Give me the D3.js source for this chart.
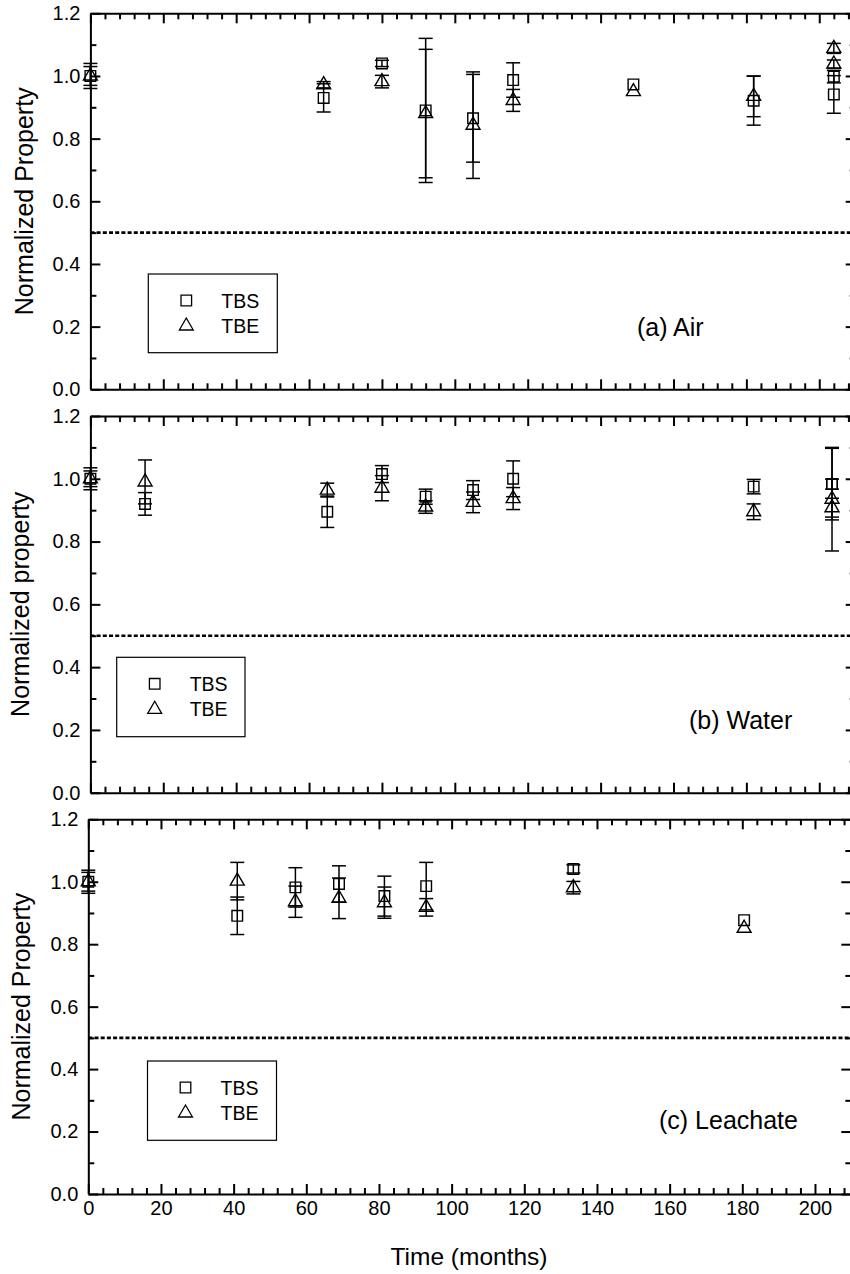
<!DOCTYPE html>
<html>
<head>
<meta charset="utf-8">
<script src="https://cdn.jsdelivr.net/npm/d3@7"></script>
<style>
  body { margin: 0; background: #fff; }
  svg text { font-family: "Liberation Sans", Arial, Helvetica, sans-serif; fill: #000; }
</style>
</head>
<body>
<svg id="chart" width="850" height="1274"></svg>
<script>
// ---- Data: normalized property vs. exposure time (months) ----
// (a) Air
const airTbsMonths = [0, 64, 80, 92, 105, 116, 149, 182, 204, 204];
const airTbsValues = [1.00, 0.93, 1.04, 0.89, 0.865, 0.987, 0.973, 0.921, 0.998, 0.941];
const airTbsErrors = [0.03, 0.045, 0.01, 0.23, 0.14, 0.055, 0, 0.078, 0.02, 0.06];
const airTbeMonths = [0, 64, 80, 92, 105, 116, 149, 182, 204, 204];
const airTbeValues = [1.00, 0.972, 0.982, 0.88, 0.843, 0.922, 0.95, 0.935, 1.088, 1.038];
const airTbeErrors = [0.04, 0.01, 0.02, 0.205, 0.17, 0.035, 0, 0.065, 0.016, 0.013];

// (b) Water
const waterTbsMonths = [0, 15, 65, 80, 92, 105, 116, 182, 203.5, 203.5];
const waterTbsValues = [1.00, 0.92, 0.895, 1.015, 0.943, 0.964, 1.00, 0.975, 0.983, 0.983];
const waterTbsErrors = [0.025, 0.036, 0.05, 0.027, 0.024, 0.03, 0.057, 0.023, 0.016, 0.114];
const waterTbeMonths = [0, 15, 65, 80, 92, 105, 116, 182, 203.5, 203.5];
const waterTbeValues = [1.00, 0.99, 0.964, 0.97, 0.91, 0.925, 0.937, 0.895, 0.935, 0.908];
const waterTbeErrors = [0.035, 0.07, 0.022, 0.04, 0.02, 0.033, 0.035, 0.025, 0.165, 0.03];

// (c) Leachate
const leachTbsMonths = [0, 41, 57, 69, 81.5, 93, 133.5, 180.5];
const leachTbsValues = [1.00, 0.891, 0.982, 0.993, 0.954, 0.986, 1.041, 0.877];
const leachTbsErrors = [0.03, 0.06, 0.063, 0.058, 0.064, 0.076, 0.013, 0];
const leachTbeMonths = [0, 41, 57, 69, 81.5, 93, 133.5, 180.5];
const leachTbeValues = [1.00, 1.002, 0.936, 0.947, 0.933, 0.918, 0.981, 0.851];
const leachTbeErrors = [0.037, 0.06, 0.05, 0.065, 0.05, 0.028, 0.02, 0];

// Axis ticks and labels
const xMajorTicks = [0, 20, 40, 60, 80, 100, 120, 140, 160, 180, 200];
const yMajorTicks = [0.0, 0.2, 0.4, 0.6, 0.8, 1.0, 1.2];
const seriesNames = ["TBS", "TBE"];
const failureLevel = [0.5];
const xTitle = "Time (months)";

// ---- Layout ----
const svg = d3.select("#chart");

const panels = [
  { left: 90.4, right: 855.7, top: 13.3, bottom: 389.3,
    yTitle: "Normalized Property", titleX: 33,
    label: "(a) Air", labelX: 637, labelY: 336,
    legend: { x: 148.3, y: 274, w: 129, h: 78.7 },
    tbs: [airTbsMonths, airTbsValues, airTbsErrors],
    tbe: [airTbeMonths, airTbeValues, airTbeErrors], xLabels: false },
  { left: 90.4, right: 855.7, top: 416, bottom: 792.7,
    yTitle: "Normalized property", titleX: 29,
    label: "(b) Water", labelX: 689, labelY: 729,
    legend: { x: 116.7, y: 657.3, w: 128.3, h: 79.4 },
    tbs: [waterTbsMonths, waterTbsValues, waterTbsErrors],
    tbe: [waterTbeMonths, waterTbeValues, waterTbeErrors], xLabels: false },
  { left: 88.3, right: 851.3, top: 819.3, bottom: 1194,
    yTitle: "Normalized Property", titleX: 30,
    label: "(c) Leachate", labelX: 659, labelY: 1129,
    legend: { x: 147.5, y: 1061, w: 129, h: 79.3 },
    tbs: [leachTbsMonths, leachTbsValues, leachTbsErrors],
    tbe: [leachTbeMonths, leachTbeValues, leachTbeErrors], xLabels: true }
];

const xMinor = d3.range(0, 210, 4).filter(v => v % 20 !== 0);
const yMinor = [0.1, 0.3, 0.5, 0.7, 0.9, 1.1];

const squareSym = d3.symbol().type(d3.symbolSquare).size(112);
const triSym = d3.symbol().type(d3.symbolTriangle).size(84);

function styleAxis(g) {
  g.select(".domain").attr("stroke", "#000").attr("stroke-width", 2);
  g.selectAll(".tick line").attr("stroke", "#000").attr("stroke-width", 2);
}

panels.forEach(p => {
  const x = d3.scaleLinear().domain([0, 210]).range([p.left, p.right]);
  const y = d3.scaleLinear().domain([0, 1.2]).range([p.bottom, p.top]);
  const g = svg.append("g");

  // dotted 50% line
  g.selectAll(".ref").data(failureLevel).join("line")
    .attr("x1", p.left).attr("x2", p.right)
    .attr("y1", d => y(d)).attr("y2", d => y(d))
    .attr("stroke", "#000").attr("stroke-width", 2.6)
    .attr("stroke-dasharray", "4,2.2");

  // minor ticks
  [[d3.axisBottom(x), p.bottom], [d3.axisTop(x), p.top]].forEach(([ax, pos]) => {
    g.append("g").attr("transform", `translate(0,${pos})`)
      .call(ax.tickValues(xMinor).tickSize(-6).tickSizeOuter(0).tickFormat(""))
      .call(styleAxis).call(a => a.select(".domain").remove());
  });
  [[d3.axisLeft(y), p.left], [d3.axisRight(y), p.right]].forEach(([ax, pos]) => {
    g.append("g").attr("transform", `translate(${pos},0)`)
      .call(ax.tickValues(yMinor).tickSize(-6).tickSizeOuter(0).tickFormat(""))
      .call(styleAxis).call(a => a.select(".domain").remove());
  });

  // major axes
  const bottomAx = g.append("g").attr("transform", `translate(0,${p.bottom})`)
    .call(d3.axisBottom(x).tickValues(xMajorTicks).tickSize(-10).tickSizeOuter(0)
      .tickPadding(7).tickFormat(p.xLabels ? d3.format("d") : ""))
    .call(styleAxis);
  bottomAx.selectAll("text").attr("font-size", 20).attr("fill", "#000");

  g.append("g").attr("transform", `translate(0,${p.top})`)
    .call(d3.axisTop(x).tickValues(xMajorTicks).tickSize(-10).tickSizeOuter(0).tickFormat(""))
    .call(styleAxis);

  const leftAx = g.append("g").attr("transform", `translate(${p.left},0)`)
    .call(d3.axisLeft(y).tickValues(yMajorTicks).tickSize(-10).tickSizeOuter(0)
      .tickPadding(10).tickFormat(d3.format(".1f")))
    .call(styleAxis);
  leftAx.selectAll("text").attr("font-size", 20).attr("fill", "#000");

  g.append("g").attr("transform", `translate(${p.right},0)`)
    .call(d3.axisRight(y).tickValues(yMajorTicks).tickSize(-10).tickSizeOuter(0).tickFormat(""))
    .call(styleAxis);

  // y title
  g.append("text")
    .attr("transform", `translate(${p.titleX},${(p.top + p.bottom) / 2}) rotate(-90)`)
    .attr("text-anchor", "middle").attr("font-size", 25)
    .text(p.yTitle);

  // panel label
  g.append("text").attr("x", p.labelX).attr("y", p.labelY)
    .attr("font-size", 25).text(p.label);

  // series: error bars first, then open markers
  const series = [
    { data: d3.zip(...p.tbs), sym: squareSym },
    { data: d3.zip(...p.tbe), sym: triSym }
  ];
  series.forEach(s => {
    const eb = g.append("g").attr("stroke", "#000").attr("stroke-width", 1.5);
    s.data.filter(d => d[2] > 0).forEach(([t, v, e]) => {
      const cx = x(t), y1 = y(v - e), y2 = y(v + e);
      eb.append("line").attr("x1", cx).attr("x2", cx).attr("y1", y1).attr("y2", y2);
      eb.append("line").attr("x1", cx - 7).attr("x2", cx + 7).attr("y1", y1).attr("y2", y1);
      eb.append("line").attr("x1", cx - 7).attr("x2", cx + 7).attr("y1", y2).attr("y2", y2);
    });
  });
  series.forEach(s => {
    g.append("g").selectAll("path").data(s.data).join("path")
      .attr("d", s.sym)
      .attr("transform", d => `translate(${x(d[0])},${y(d[1])})`)
      .attr("fill", "none").attr("stroke", "#000").attr("stroke-width", 1.4);
  });

  // legend
  const L = p.legend;
  const lg = g.append("g").attr("transform", `translate(${L.x},${L.y})`);
  lg.append("rect").attr("width", L.w).attr("height", L.h)
    .attr("fill", "#fff").attr("stroke", "#000").attr("stroke-width", 1.2);
  const syms = [squareSym, triSym];
  seriesNames.forEach((name, i) => {
    const cy = 26.5 + i * 25.5;
    lg.append("path").attr("d", syms[i]).attr("transform", `translate(38,${cy})`)
      .attr("fill", "none").attr("stroke", "#000").attr("stroke-width", 1.3);
    lg.append("text").attr("x", 73).attr("y", cy + 7).attr("font-size", 19.5).text(name);
  });
});

// x axis title
svg.append("text").attr("x", 469).attr("y", 1265).attr("text-anchor", "middle")
  .attr("font-size", 24.5).text(xTitle);
</script>
</body>
</html>
